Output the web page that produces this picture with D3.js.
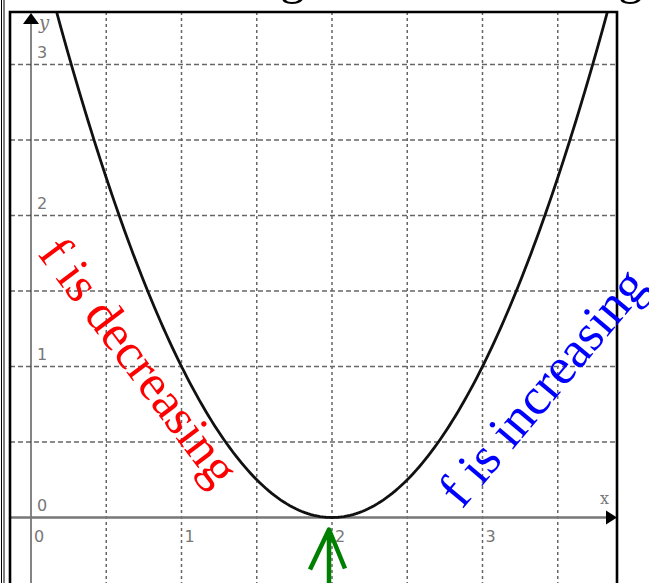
<!DOCTYPE html>
<html>
<head>
<meta charset="utf-8">
<script src="https://cdn.jsdelivr.net/npm/d3@7"></script>
<style>
  body { margin: 0; background: #fff; }
  svg { display: block; }
</style>
</head>
<body>
<svg class="main" width="649" height="583"></svg>
<script>
  // values
  const xTicks = [0, 1, 2, 3];
  const yTicks = [0, 1, 2, 3];
  const xGrid = [0.5, 1, 1.5, 2, 2.5, 3, 3.5];
  const yGrid = [0.5, 1, 1.5, 2, 2.5, 3];
  const vertex = [2, 0]; // f(x) = (x - 2)^2
  const curveXs = d3.range(0, 4.001, 0.02);

  const W = 649, H = 583;
  const frame = { left: 10, top: 12, right: 617 };

  const svg = d3.select("svg.main");

  const x = d3.scaleLinear().domain([0, 3]).range([31, 482.5]);
  const y = d3.scaleLinear().domain([0, 3]).range([517.5, 64.5]);

  // cut-off heading at the very top
  const head = svg.append("g")
    .attr("font-family", "'Liberation Serif', serif")
    .attr("font-size", 50)
    .attr("fill", "#000")
    .attr("text-anchor", "end");
  head.append("text").attr("x", 305).attr("y", -7).text("f is decreasing");
  head.append("text").attr("x", 643).attr("y", -7).text("and increasing");

  // outer double rule on the left
  [1.5, 4].forEach(px => {
    svg.append("line")
      .attr("x1", px).attr("x2", px).attr("y1", 0).attr("y2", H)
      .attr("stroke", "#000").attr("stroke-width", 1);
  });

  // grid
  const grid = svg.append("g").attr("stroke", "#666").attr("stroke-width", 1.5);
  grid.selectAll("line.v").data(xGrid).join("line")
    .attr("class", "v")
    .attr("x1", d => x(d)).attr("x2", d => x(d))
    .attr("y1", frame.top).attr("y2", H)
    .attr("stroke-dasharray", "3,3");
  grid.selectAll("line.h").data(yGrid).join("line")
    .attr("class", "h")
    .attr("x1", frame.left).attr("x2", frame.right)
    .attr("y1", d => y(d)).attr("y2", d => y(d))
    .attr("stroke-dasharray", "5,3");

  // axes
  svg.append("line")
    .attr("x1", x(0)).attr("x2", x(0)).attr("y1", H).attr("y2", frame.top + 8)
    .attr("stroke", "#333").attr("stroke-width", 1.2);
  svg.append("line")
    .attr("x1", frame.left).attr("x2", frame.right - 8).attr("y1", y(0)).attr("y2", y(0))
    .attr("stroke", "#777").attr("stroke-width", 2.5);
  svg.append("path")
    .attr("d", `M${x(0)},${frame.top + 1} l-8,11 h16 z`)
    .attr("fill", "#000");
  svg.append("path")
    .attr("d", `M${frame.right},${y(0)} l-11,-7 v14 z`)
    .attr("fill", "#000");

  // tick labels
  const lab = svg.append("g")
    .attr("font-family", "'DejaVu Sans', sans-serif")
    .attr("font-size", 16)
    .attr("fill", "#777");
  lab.selectAll("text.xl").data(xTicks).join("text")
    .attr("class", "xl")
    .attr("x", d => x(d) + 3).attr("y", y(0) + 24)
    .text(d => d);
  lab.selectAll("text.yl").data(yTicks).join("text")
    .attr("class", "yl")
    .attr("x", x(0) + 6).attr("y", d => y(d) - 7)
    .text(d => d);
  lab.append("text")
    .attr("x", x(0) + 8).attr("y", frame.top + 17)
    .attr("font-family", "'DejaVu Serif', serif").attr("font-style", "italic")
    .attr("font-size", 18)
    .text("y");
  lab.append("text")
    .attr("x", frame.right - 17).attr("y", y(0) - 14)
    .attr("font-family", "'DejaVu Serif', serif")
    .attr("font-size", 16)
    .text("x");

  // curve, clipped to the frame
  svg.append("clipPath").attr("id", "clip")
    .append("rect")
    .attr("x", frame.left).attr("y", frame.top)
    .attr("width", frame.right - frame.left).attr("height", H - frame.top);
  const f = t => (t - vertex[0]) * (t - vertex[0]) + vertex[1];
  const line = d3.line().x(d => x(d)).y(d => y(f(d))).curve(d3.curveLinear);
  svg.append("path")
    .attr("clip-path", "url(#clip)")
    .attr("d", line(curveXs))
    .attr("fill", "none")
    .attr("stroke", "#111")
    .attr("stroke-width", 2.8);

  // frame
  svg.append("path")
    .attr("d", `M${frame.left},${H} V${frame.top} H${frame.right} V${H}`)
    .attr("fill", "none")
    .attr("stroke", "#000")
    .attr("stroke-width", 2.6);

  // annotations
  const note = svg.append("g")
    .attr("font-family", "'Liberation Serif', serif");
  note.append("text")
    .attr("transform", "translate(37,254) rotate(53)")
    .attr("font-size", 51)
    .attr("fill", "#ff0000")
    .text("f is decreasing");
  note.append("text")
    .attr("transform", "translate(462,510) rotate(-50)")
    .attr("font-size", 52)
    .attr("fill", "#0000ff")
    .text("f is increasing");

  // green arrow pointing at the minimum
  const tip = [x(vertex[0]) - 3, y(vertex[1]) + 12];
  svg.append("path")
    .attr("d", `M${tip[0]},${H} V${tip[1]} M${tip[0] - 19},${tip[1] + 40} L${tip[0]},${tip[1]} L${tip[0] + 16},${tip[1] + 39}`)
    .attr("fill", "none")
    .attr("stroke", "#008000")
    .attr("stroke-width", 4.5)
    .attr("stroke-linejoin", "round");
</script>
</body>
</html>
